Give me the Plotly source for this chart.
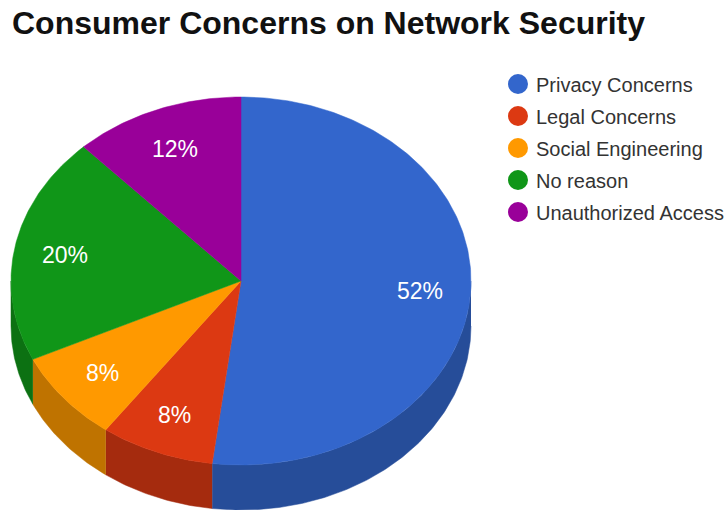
import numpy as np
import plotly.graph_objects as go

# Survey shares, in percent
categories = ["Privacy Concerns", "Legal Concerns", "Social Engineering", "No reason", "Unauthorized Access"]
shares = [52, 8, 8, 20, 12]
top_colors = ["#3366CC", "#DC3912", "#FF9900", "#109618", "#990099"]
side_colors = ["#264D99", "#A52B0E", "#BF7300", "#0C7112", "#730073"]

TITLE = "Consumer Concerns on Network Security"
FONT = "Liberation Sans, Arial, sans-serif"

# Tilted-disc geometry, in plot units (the axes map one unit to one pixel)
CX, CY = 241, 281
RX, RY = 230, 184
DEPTH = 45
LABEL_RADIUS = 0.78
LABEL_DROP = 1

LEGEND_MARK_X = 518
LEGEND_TEXT_X = 534
LEGEND_TOP = 84
LEGEND_STEP = 32


def rim(start, stop, drop=0.0):
    """Points along the disc edge; angles are clockwise from 12 o'clock, in radians."""
    t = np.linspace(start, stop, max(2, int(abs(stop - start) * 80)))
    return CX + RX * np.sin(t), CY - RY * np.cos(t) + drop


fig = go.Figure()

edges = np.cumsum([0] + shares) / sum(shares) * 2 * np.pi
spans = list(zip(edges[:-1], edges[1:]))

# Side walls: only the front half of the rim (3 o'clock to 9 o'clock) is visible
for (a, b), colour in zip(spans, side_colors):
    lo, hi = max(a, np.pi / 2), min(b, 3 * np.pi / 2)
    if lo >= hi:
        continue
    x0, y0 = rim(lo, hi)
    x1, y1 = rim(hi, lo, DEPTH)
    fig.add_trace(go.Scatter(
        x=np.r_[x0, x1], y=np.r_[y0, y1], mode="lines", fill="toself",
        fillcolor=colour, line=dict(color=colour, width=0.5),
        hoverinfo="skip", showlegend=False,
    ))

# Top face of each slice
for (a, b), colour, name in zip(spans, top_colors, categories):
    x, y = rim(a, b)
    fig.add_trace(go.Scatter(
        x=np.r_[CX, x, CX], y=np.r_[CY, y, CY], mode="lines", fill="toself",
        fillcolor=colour, line=dict(color=colour, width=0.5),
        name=name, hoverinfo="name", showlegend=False,
    ))

# Percentage labels sit on each slice's mid-angle
annotations = []
for (a, b), share in zip(spans, shares):
    mid = (a + b) / 2
    annotations.append(dict(
        x=CX + LABEL_RADIUS * RX * np.sin(mid),
        y=CY - LABEL_RADIUS * RY * np.cos(mid) + LABEL_DROP,
        text=f"{share}%", showarrow=False, xanchor="center", yanchor="middle",
        font=dict(family=FONT, size=23, color="#FFFFFF"),
    ))

# Legend column with round swatches
for i, (name, colour) in enumerate(zip(categories, top_colors)):
    y = LEGEND_TOP + i * LEGEND_STEP
    fig.add_trace(go.Scatter(
        x=[LEGEND_MARK_X], y=[y], mode="markers",
        marker=dict(size=20, color=colour, line=dict(width=0)),
        hoverinfo="skip", showlegend=False,
    ))
    annotations.append(dict(
        x=LEGEND_TEXT_X, y=y + 1, text=name, showarrow=False,
        xanchor="left", yanchor="middle",
        font=dict(family=FONT, size=20, color="#333333"),
    ))

fig.update_layout(
    width=728, height=510,
    margin=dict(l=0, r=0, t=0, b=0),
    paper_bgcolor="#FFFFFF", plot_bgcolor="#FFFFFF",
    title=dict(
        text=f"<b>{TITLE}</b>", x=12 / 728, xanchor="left", xref="paper",
        y=1 - 23 / 510, yanchor="middle", yref="container",
        font=dict(family=FONT, size=32, color="#111111"),
    ),
    xaxis=dict(range=[0, 728], visible=False, fixedrange=True),
    yaxis=dict(range=[510, 0], visible=False, fixedrange=True),
    annotations=annotations,
    showlegend=False,
)

fig.write_html("out.html", config=dict(displayModeBar=False))
